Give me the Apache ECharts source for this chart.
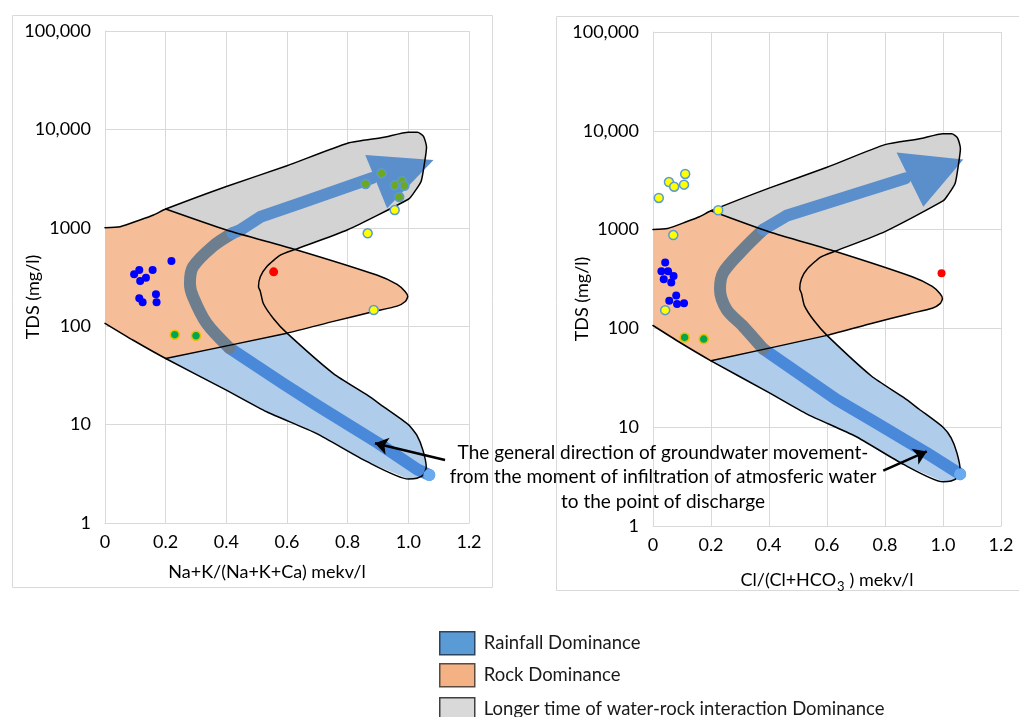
<!DOCTYPE html>
<html><head><meta charset="utf-8">
<script src="https://cdn.jsdelivr.net/npm/echarts@6/dist/echarts.min.js"></script>
<style>html,body{margin:0;padding:0;background:#fff}#c{width:1019px;height:717px}</style>
</head><body><div id="c"></div><script>
// ---------- tick labels / names ----------
const xTickValues = [0, 0.2, 0.4, 0.6, 0.8, 1.0, 1.2];
const yTickLabels = ['1', '10', '100', '1000', '10,000', '100,000'];
const legendNames = ['Rainfall Dominance', 'Rock Dominance', 'Longer time of water-rock interaction Dominance'];
const noteLines = ['The general direction of groundwater movement-', 'from the moment of infiltration of atmosferic water', 'to the point of discharge'];
const yAxisTitle = 'TDS (mg/l)';

// ---------- Gibbs boundary pieces [ratio, TDS mg/l] ----------
const edgeTopLeft = [[0, 1000], [0.05, 1025], [0.115, 1200], [0.16, 1350], [0.2, 1550]];
const grayOuter = [[0.2, 1550], [0.4, 2630], [0.6, 4270], [0.8, 7240], [0.92, 8300], [1.0, 9350], [1.03, 9350], [1.05, 8500], [1.06, 6600], [1.053, 4500], [1.042, 2950], [1.017, 2240], [1.0, 1950], [0.8, 955], [0.627, 603]];
const rockInnerCurve = [[0.627, 603], [0.578, 527], [0.533, 403], [0.512, 318], [0.506, 252], [0.512, 226], [0.522, 170], [0.555, 120], [0.6, 85]];
const rainRight = [[0.6, 85], [0.753, 33], [0.864, 20], [0.918, 15.2], [1.0, 10], [1.028, 7.8], [1.048, 5.5], [1.059, 3.7], [1.05, 3.1], [1.028, 2.85], [1.0, 2.8]];
const rainBottom = [[1.0, 2.8], [0.864, 4.2], [0.698, 8.1], [0.533, 13.5], [0.4, 22.4], [0.2, 47]];
const rockLowerLeft = [[0.2, 47], [0.093, 72], [0, 107]];
const rockTopEdge = [[0.2, 1550], [0.4, 950], [0.627, 603], [0.896, 331], [0.963, 266], [0.99, 224], [0.998, 200]];
const rockBottomEdge = [[0.998, 200], [0.99, 178], [0.963, 160], [0.886, 141], [0.753, 112], [0.6, 85], [0.2, 47]];

// ---------- evolution arrows ----------
const leftArrowLow = [[1.069, 3.08], [1.03, 3.5], [0.9, 6.5], [0.698, 15.8], [0.588, 26], [0.41, 60]];
const leftArrowMid = [[0.41, 60], [0.335, 107], [0.29, 200], [0.28, 270], [0.29, 400], [0.356, 650], [0.42, 880]];
const leftArrowHigh = [[0.42, 880], [0.446, 950], [0.512, 1290], [0.644, 1780], [0.88, 3200]];
const leftArrowHead = [[0.858, 5500], [1.083, 4900], [0.93, 1580]];
const rightArrowLow = [[1.059, 3.35], [0.943, 5.5], [0.771, 11], [0.633, 19], [0.38, 62]];
const rightArrowMid = [[0.38, 62], [0.311, 105], [0.254, 155], [0.231, 250], [0.243, 370], [0.311, 630], [0.38, 1000]];
const rightArrowHigh = [[0.38, 1000], [0.46, 1380], [0.87, 3300]];
const rightArrowHead = [[0.84, 6030], [1.07, 5130], [0.932, 1700]];

// ---------- sample points ----------
const leftBlue = [[0.219, 460], [0.113, 372], [0.157, 372], [0.096, 337], [0.135, 311], [0.116, 288], [0.168, 211], [0.113, 192], [0.124, 175], [0.17, 175]];
const leftOlive = [[0.912, 3580], [0.859, 2790], [0.955, 2700], [0.979, 2990], [0.987, 2680], [0.970, 2060]];
const leftYellow = [[0.955, 1515], [0.866, 879], [0.886, 146]];
const leftGreen = [[0.23, 82], [0.30, 80]];
const leftRed = [[0.556, 357]];
const rightBlue = [[0.042, 465], [0.029, 379], [0.052, 379], [0.071, 340], [0.037, 314], [0.063, 291], [0.080, 215], [0.056, 191], [0.083, 177], [0.107, 180]];
const rightYellow = [[0.111, 3660], [0.055, 3030], [0.073, 2720], [0.107, 2850], [0.02, 2090], [0.225, 1570], [0.07, 880], [0.042, 153]];
const rightGreen = [[0.109, 81], [0.175, 78]];
const rightRed = [[0.995, 361]];

// ---------- annotation arrows ----------
const leftNoteArrow = [[1.121, 4.37], [0.890, 6.46]];
const rightNoteArrow = [[0.794, 3.64], [0.944, 5.68]];

// ---------- derived polygons ----------
const grayPoly = grayOuter.concat(rockTopEdge.slice(0, 2).reverse());
const orangePoly = edgeTopLeft.concat(rockTopEdge.slice(1), rockBottomEdge.slice(1), rockLowerLeft.slice(1));
const bluePoly = [[0.2, 47]].concat(rainRight, rainBottom.slice(1));
const outerOutline = edgeTopLeft.concat(grayOuter.slice(1), rockInnerCurve.slice(1), rainRight.slice(1), rainBottom.slice(1), rockLowerLeft.slice(1));
const innerOutline = rockTopEdge.concat(rockBottomEdge.slice(1));

const FONT = 'Lato';
const C = {
  grid: '#D9D9D9', blueFill: '#AFCDEB', orangeFill: '#F5BE98', grayFill: '#D3D3D3',
  arrowBlue: '#4A88DA', arrowSlate: '#6D7F8F', arrowGray: '#5A8FCC', dot: '#6AAAEE'
};

function polySeries(name, pts, fill, idx, z) {
  return {
    type: 'custom', name: name, xAxisIndex: idx, yAxisIndex: idx, z: z, silent: true,
    data: pts,
    renderItem: function (params, api) {
      if (params.dataIndex !== 0) return null;
      return { type: 'polygon', shape: { points: pts.map(p => api.coord(p)) }, style: { fill: fill } };
    }
  };
}
function lineSeries(pts, color, width, idx, z, smooth, extra) {
  return Object.assign({
    type: 'line', xAxisIndex: idx, yAxisIndex: idx, z: z, data: pts, showSymbol: false, symbol: 'none',
    smooth: smooth, silent: true, animation: false,
    lineStyle: { color: color, width: width, cap: 'round', join: 'round' }
  }, extra || {});
}
function scatter(pts, color, size, border, bw, idx) {
  return {
    type: 'scatter', xAxisIndex: idx, yAxisIndex: idx, z: 10, data: pts, symbolSize: size,
    itemStyle: { color: color, borderColor: border || color, borderWidth: bw || 0, opacity: 1 }
  };
}
function noteArrow(pts) {
  return {
    silent: true, symbol: ['none', 'arrow'], symbolSize: 13, animation: false,
    itemStyle: { color: '#000' },
    lineStyle: { color: '#000', width: 2.5, type: 'solid' }, label: { show: false },
    data: [[{ coord: pts[0] }, { coord: pts[1] }]]
  };
}

function chartSeries(idx, arrows, pts, note) {
  const s = [];
  s.push(polySeries(legendNames[2], grayPoly, C.grayFill, idx, 1));
  s.push(polySeries(legendNames[1], orangePoly, C.orangeFill, idx, 1));
  s.push(polySeries(legendNames[0], bluePoly, C.blueFill, idx, 1));
  s.push(lineSeries(arrows.low, C.arrowBlue, 12, idx, 3, false));
  s.push(lineSeries(arrows.mid, C.arrowSlate, 12, idx, 3, 0.3));
  s.push(lineSeries(arrows.high, C.arrowGray, 12, idx, 3, false));
  s.push(polySeries('arrowhead' + idx, arrows.head, C.arrowGray, idx, 3));
  s.push(scatter([arrows.low[0]], C.dot, 12, null, 0, idx));
  s.push(lineSeries(outerOutline, '#000', 1.5, idx, 5, 0.2));
  s.push(lineSeries(innerOutline, '#000', 1.5, idx, 5, 0.2));
  s.push(lineSeries([], '#000', 2.5, idx, 20, false, { markLine: noteArrow(note) }));
  pts.forEach(p => s.push(scatter(p.data, p.color, p.size, p.border, p.bw, idx)));
  return s;
}

const yAxisBase = (idx) => ({
  type: 'log', logBase: 10, min: 1, max: 100000, gridIndex: idx,
  axisLine: { show: true, lineStyle: { color: C.grid } }, axisTick: { show: false },
  splitLine: { show: true, lineStyle: { color: C.grid } },
  axisLabel: {
    margin: 14, fontFamily: FONT, fontSize: 18, color: '#000',
    formatter: v => yTickLabels[Math.round(Math.log10(v))]
  }
});
const xAxisBase = (idx, name, gap, pad, rich) => ({
  type: 'value', min: 0, max: 1.2, interval: 0.2, gridIndex: idx,
  name: name, nameLocation: 'middle', nameGap: gap,
  nameTextStyle: { fontFamily: FONT, fontSize: 18, color: '#000', padding: pad, rich: rich },
  axisLine: { show: true, lineStyle: { color: C.grid } }, axisTick: { show: false },
  splitLine: { show: true, lineStyle: { color: C.grid } },
  axisLabel: {
    margin: 10, fontFamily: FONT, fontSize: 18, color: '#000',
    formatter: v => { const t = xTickValues.find(x => Math.abs(x - v) < 1e-6); return t === 0 ? '0' : t.toFixed(1); }
  }
});

const legendItem = (i, top, color, border) => ({
  orient: 'vertical', left: 439, top: top, padding: 0, itemWidth: 35, itemHeight: 23, icon: 'rect',
  selectedMode: false,
  textStyle: { fontFamily: FONT, fontSize: 18.5, color: '#1a1a1a', padding: [0, 0, 0, 4] },
  data: [{ name: legendNames[i], itemStyle: { color: color, borderColor: border, borderWidth: 1.5 } }]
});

const chart = echarts.init(document.getElementById('c'), null, { renderer: 'canvas' });
chart.setOption({
  animation: false,
  backgroundColor: '#fff',
  grid: [
    { left: 105, top: 31, width: 364, height: 492 },
    { left: 653, top: 32, width: 348, height: 494 }
  ],
  xAxis: [
    xAxisBase(0, 'Na+K/(Na+K+Ca) mekv/l', 40, [0, 40, 0, 0]),
    xAxisBase(1, 'Cl/(Cl+HCO{sub|3}) mekv/l', 42, [0, 0, 0, 0],
      { sub: { fontFamily: FONT, fontSize: 13, color: '#000', verticalAlign: 'bottom', padding: [12, 5, 0, 1] } })
  ],
  yAxis: [yAxisBase(0), yAxisBase(1)],
  legend: [
    legendItem(0, 631, '#5B9BD5', '#2B4560'),
    legendItem(1, 663, '#F4B183', '#5A4A40'),
    legendItem(2, 697, '#D9D9D9', '#404040')
  ],
  graphic: [
    { type: 'rect', z: -1, shape: { x: 12.5, y: 15.5, width: 480, height: 572 }, style: { fill: null, stroke: '#D9D9D9', lineWidth: 1 } },
    { type: 'rect', z: -1, shape: { x: 556.5, y: 16.5, width: 475, height: 574 }, style: { fill: null, stroke: '#D9D9D9', lineWidth: 1 } },
    { type: 'text', z: 100, x: 33, y: 297, rotation: Math.PI / 2,
      style: { text: yAxisTitle, align: 'center', verticalAlign: 'middle', font: '18px Lato', fill: '#000' } },
    { type: 'text', z: 100, x: 582, y: 299, rotation: Math.PI / 2,
      style: { text: yAxisTitle, align: 'center', verticalAlign: 'middle', font: '18px Lato', fill: '#000' } },
    { type: 'text', z: 100, x: 663, y: 477,
      style: { text: noteLines.join('\n'), align: 'center', verticalAlign: 'middle', font: '19px Lato', fill: '#000', lineHeight: 24.5 } }
  ],
  series: [].concat(
    chartSeries(0, { low: leftArrowLow, mid: leftArrowMid, high: leftArrowHigh, head: leftArrowHead }, [
      { data: leftBlue, color: '#0000FF', size: 8 },
      { data: leftOlive, color: '#6EA820', size: 9, border: '#5B9BD5', bw: 1.5 },
      { data: leftYellow, color: '#FFFF00', size: 9, border: '#5B9BD5', bw: 1.5 },
      { data: leftGreen, color: '#00A651', size: 9, border: '#E8C000', bw: 1.5 },
      { data: leftRed, color: '#FF0000', size: 9 }
    ], leftNoteArrow),
    chartSeries(1, { low: rightArrowLow, mid: rightArrowMid, high: rightArrowHigh, head: rightArrowHead }, [
      { data: rightBlue, color: '#0000FF', size: 8 },
      { data: rightYellow, color: '#FFFF00', size: 9, border: '#5B9BD5', bw: 1.5 },
      { data: rightGreen, color: '#00A651', size: 9, border: '#E8C000', bw: 1.5 },
      { data: rightRed, color: '#FF0000', size: 8 }
    ], rightNoteArrow)
  )
});
</script></body></html>
